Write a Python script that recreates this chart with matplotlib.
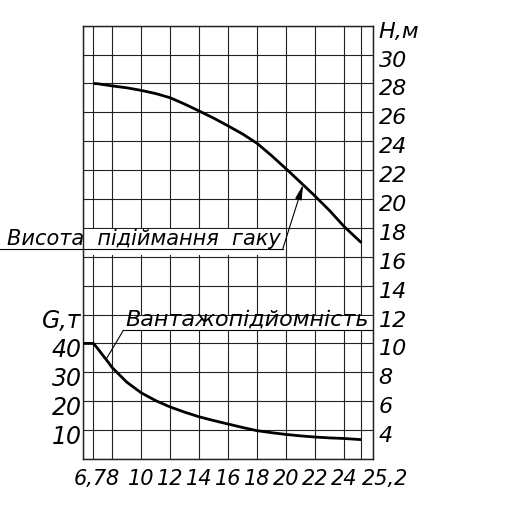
import numpy as np
import matplotlib
matplotlib.use("Agg")
import matplotlib.pyplot as plt
from matplotlib.patches import Rectangle
from matplotlib.transforms import ScaledTranslation

plt.rcParams['font.family'] = 'DejaVu Sans'
plt.rcParams['font.style'] = 'italic'

# Висота підіймання гаку H (м) від вильоту R (м)
r_h = [6.7, 7, 8, 9, 10, 11, 12, 13, 14, 15, 16, 17, 18, 19, 20, 21, 22, 23, 24, 25.2]
h_m = [28.0, 27.98, 27.83, 27.7, 27.52, 27.3, 27.01, 26.57, 26.09, 25.6, 25.06,
       24.5, 23.85, 23.0, 22.09, 21.15, 20.2, 19.2, 18.1, 16.97]

# Вантажопідйомність G (т) від вильоту R (м)
r_g = [6, 6.7, 7, 7.3, 7.6, 8, 9, 10, 11, 12, 13, 14, 15, 16, 17, 18, 19, 20,
       21, 22, 23, 24, 25.2]
g_t = [40, 40, 38.2, 36.2, 34.3, 31.6, 26.6, 22.9, 20.2, 18.0, 16.2, 14.6, 13.3,
       12.1, 10.9, 9.8, 9.1, 8.5, 8.0, 7.6, 7.3, 7.1, 6.7]

x_ticks = [6, 6.7, 8, 10, 12, 14, 16, 18, 20, 22, 24, 25.2, 26]
x_labels = ['', '6,7', '8', '10', '12', '14', '16', '18', '20', '22', '24', '25,2', '']
h_ticks = list(range(2, 33, 2))
h_labels = [''] + [str(v) for v in range(4, 31, 2)] + ['H,м']
g_ticks = [10, 20, 30, 40, 50]
g_labels = ['10', '20', '30', '40', 'G,т']

fig = plt.figure(figsize=(5.08, 5.17), dpi=100)
ax = fig.add_axes([0.164, 0.1122, 0.5703, 0.8381])
ax.set_xlim(6, 26)
ax.set_ylim(2, 32)

# шкала G зліва: 0..150 т на ту саму висоту
gax = ax.twinx()
gax.set_ylim(0, 150)

# сітка
ax.set_xticks(x_ticks)
ax.set_xticklabels(x_labels, fontsize=15)
ax.set_yticks(h_ticks)
ax.set_yticklabels(h_labels, fontsize=16)
ax.yaxis.tick_right()
ax.grid(True, color='#222222', lw=0.8)
ax.tick_params(length=0)
ax.tick_params(axis='x', pad=7)
ax.tick_params(axis='y', pad=4)
for s in ax.spines.values():
    s.set_color('#222222')
    s.set_linewidth(0.9)

gax.yaxis.tick_left()
gax.set_yticks(g_ticks)
gax.set_yticklabels(g_labels, fontsize=17)
gax.tick_params(length=0, pad=1)
for s in gax.spines.values():
    s.set_color('#222222')
    s.set_linewidth(0.9)

shift = ScaledTranslation(0, -0.04, fig.dpi_scale_trans)
for lbl in ax.get_yticklabels() + gax.get_yticklabels():
    lbl.set_transform(lbl.get_transform() + shift)
for lbl in ax.get_xticklabels():
    if lbl.get_text() == '25,2':
        lbl.set_horizontalalignment('left')
    if lbl.get_text() == '6,7':
        lbl.set_transform(lbl.get_transform() + ScaledTranslation(-0.03, 0, fig.dpi_scale_trans))

# криві
ax.plot(r_h, h_m, color='black', lw=2.0, solid_capstyle='butt', zorder=3)
gax.plot(r_g, g_t, color='black', lw=2.0, solid_capstyle='butt', zorder=3)

# підпис висоти з виноскою
ax.add_patch(Rectangle((6, 16.1), 13.75, 1.8, fc='white', ec='none', zorder=1.8))
ax.text(19.65, 16.8, 'Висота  підіймання  гаку', ha='right', va='baseline',
        fontsize=15, zorder=4, clip_on=False)
ax.plot([0.2, 19.77], [16.55, 16.55], color='black', lw=0.8, clip_on=False, zorder=4)
tip_r = 21.17
tip_h = np.interp(tip_r, r_h, h_m)
ax.annotate('', xy=(tip_r, tip_h), xytext=(19.77, 16.55),
            arrowprops=dict(arrowstyle='-|>,head_length=0.9,head_width=0.2',
                            color='black', lw=0.8, shrinkA=0, shrinkB=0),
            zorder=4)

# підпис вантажопідйомності з виноскою
ax.add_patch(Rectangle((8.76, 10.95), 17.24, 0.98, fc='white', ec='none', zorder=1.8))
ax.text(8.88, 11.22, 'Вантажопідйомність', ha='left', va='baseline',
        fontsize=16, zorder=4)
ax.plot([8.76, 26], [10.9, 10.9], color='black', lw=0.8, zorder=4, clip_on=False)
lead_r = 7.57
lead_h = np.interp(lead_r, r_g, g_t) / 5 + 2
ax.plot([lead_r, 8.76], [lead_h, 10.9], color='black', lw=0.8, zorder=4)

fig.savefig('out.png', dpi=100)
